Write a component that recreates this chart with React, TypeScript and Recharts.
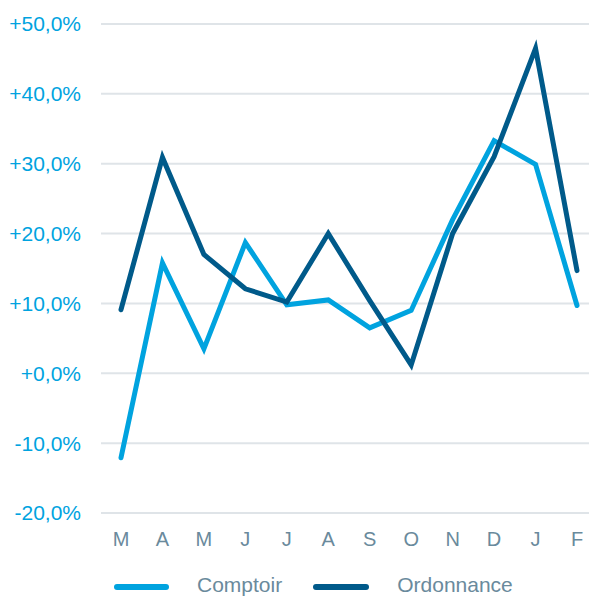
import React from 'react';
import { LineChart, Line, XAxis, YAxis, CartesianGrid, Legend } from 'recharts';

const months = ['M', 'A', 'M', 'J', 'J', 'A', 'S', 'O', 'N', 'D', 'J', 'F'];
const comptoir = [-12.1, 15.8, 3.5, 18.7, 9.8, 10.5, 6.5, 9.0, 22.0, 33.3, 29.9, 9.7];
const ordonnance = [9.1, 30.9, 17.0, 12.1, 10.2, 20.0, 10.4, 1.2, 20.0, 31.0, 46.5, 14.7];
const yTicks = [-20, -10, 0, 10, 20, 30, 40, 50];

const LIGHT = '#00a3df';
const DARK = '#005a8a';
const TEXT = '#6a8a9c';
const FONT = 'Liberation Sans, Arial, sans-serif';

const data = months.map((m, i) => ({ month: m, comptoir: comptoir[i], ordonnance: ordonnance[i] }));

const fmt = (v: number) => (v >= 0 ? '+' : '') + v.toFixed(1).replace('.', ',') + '%';

const LegendContent = () => (
  <div style={{ height: 43, position: 'relative', fontFamily: FONT, fontSize: 21, color: TEXT }}>
    <div style={{ position: 'absolute', top: 21, left: 0, display: 'flex', alignItems: 'center', height: 21, lineHeight: '21px', whiteSpace: 'nowrap' }}>
      <span style={{ marginLeft: 106, width: 55, height: 6, borderRadius: 3, background: LIGHT, display: 'inline-block', position: 'relative', top: 2 }} />
      <span style={{ marginLeft: 28 }}>Comptoir</span>
      <span style={{ marginLeft: 31, width: 56, height: 6, borderRadius: 3, background: DARK, display: 'inline-block', position: 'relative', top: 2 }} />
      <span style={{ marginLeft: 28 }}>Ordonnance</span>
    </div>
  </div>
);

export default function App() {
  return (
    <div style={{ position: 'absolute', left: 0, top: 0, width: 589, height: 596 }}>
      <LineChart width={589} height={596} data={data} margin={{ top: 24, right: 0, left: 8, bottom: 0 }}>
        <CartesianGrid vertical={false} stroke="#dfe4e8" strokeWidth={2} />
        <XAxis
          dataKey="month"
          padding={{ left: 20, right: 12 }}
          axisLine={false}
          tickLine={false}
          tickSize={0}
          tickMargin={19}
          height={40}
          interval={0}
          tick={{ fill: TEXT, fontSize: 20, fontFamily: FONT }}
        />
        <YAxis
          domain={[-20, 50]}
          ticks={yTicks}
          tickFormatter={fmt}
          axisLine={false}
          tickLine={false}
          tickSize={0}
          tickMargin={20}
          width={93}
          interval={0}
          tick={{ fill: LIGHT, fontSize: 21, fontFamily: FONT }}
        />
        <Legend verticalAlign="bottom" align="left" content={<LegendContent />} />
        <Line dataKey="comptoir" name="Comptoir" stroke={LIGHT} strokeWidth={5} dot={false} strokeLinecap="round" strokeLinejoin="miter" isAnimationActive={false} />
        <Line dataKey="ordonnance" name="Ordonnance" stroke={DARK} strokeWidth={5} dot={false} strokeLinecap="round" strokeLinejoin="miter" isAnimationActive={false} />
      </LineChart>
    </div>
  );
}
